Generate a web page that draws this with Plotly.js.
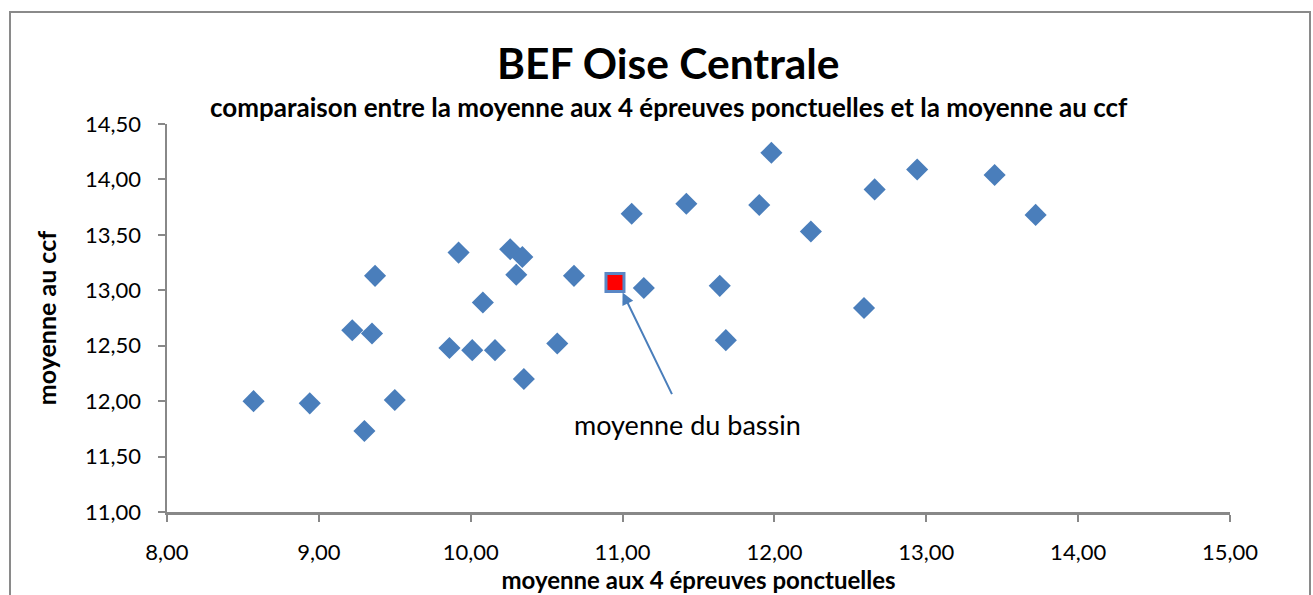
<!DOCTYPE html>
<html>
<head>
<meta charset="utf-8">
<script src="https://cdn.plot.ly/plotly-3.0.1.min.js"></script>
<style>
  html, body { margin: 0; padding: 0; background: #fff; }
  #chart { width: 1313px; height: 595px; }
</style>
</head>
<body>
<div id="chart"></div>
<script>
// Data
const etablissementsX = [8.57, 8.94, 9.30, 9.22, 9.35, 9.37, 9.50, 9.86, 9.92, 10.01, 10.08, 10.16, 10.26, 10.30, 10.34, 10.35, 10.57, 10.68, 11.14, 11.06, 11.42, 11.64, 11.68, 11.90, 11.98, 12.24, 12.59, 12.66, 12.94, 13.45, 13.72];
const etablissementsY = [12.00, 11.98, 11.73, 12.64, 12.61, 13.13, 12.01, 12.48, 13.34, 12.46, 12.89, 12.46, 13.37, 13.14, 13.30, 12.20, 12.52, 13.13, 13.02, 13.69, 13.78, 13.04, 12.55, 13.77, 14.24, 13.53, 12.84, 13.91, 14.09, 14.04, 13.68];
const bassinX = [10.95];
const bassinY = [13.07];
const annotationText = "moyenne du bassin";
const arrowHead = [11.00, 12.98];
const arrowTail = [11.33, 12.05];
const labelPos = [11.43, 11.79];
const xTicks = [8, 9, 10, 11, 12, 13, 14, 15];
const yTicks = [11, 11.5, 12, 12.5, 13, 13.5, 14, 14.5];
const titleText = "BEF Oise Centrale";
const subtitleText = "comparaison entre la moyenne aux 4 épreuves ponctuelles et la moyenne au ccf";
const xTitle = "moyenne aux 4 épreuves ponctuelles";
const yTitle = "moyenne au ccf";

const FONT = "Lato, 'Open Sans', sans-serif";
const BLUE = "#4a7ebb";

const traces = [
  {
    x: etablissementsX, y: etablissementsY, type: 'scatter', mode: 'markers',
    marker: { symbol: 'diamond', size: 17, color: BLUE, line: { width: 0 } },
    hoverinfo: 'x+y', showlegend: false
  },
  {
    x: bassinX, y: bassinY, type: 'scatter', mode: 'markers',
    marker: { symbol: 'square', size: 18, color: '#ff0000', line: { width: 3, color: '#5a87c5' } },
    hoverinfo: 'x+y', showlegend: false
  }
];

const layout = {
  width: 1313, height: 595,
  margin: { l: 167, r: 83, t: 124, b: 83 },
  paper_bgcolor: '#ffffff', plot_bgcolor: '#ffffff',
  separators: ', ',
  font: { family: FONT, color: '#000' },
  xaxis: {
    range: [8, 15], tickvals: xTicks, tickformat: '.2f',
    showgrid: false, zeroline: false,
    showline: true, linecolor: '#888888', linewidth: 2.5,
    ticks: 'outside', ticklen: 7, tickwidth: 2, tickcolor: '#888888',
    tickfont: { size: 22, family: FONT, color: '#000' },
    ticklabelstandoff: 12,
    title: { text: xTitle, font: { size: 24, family: FONT, weight: 'bold', color: '#000' }, standoff: 6 }
  },
  yaxis: {
    range: [11, 14.5], tickvals: yTicks, tickformat: '.2f',
    showgrid: false, zeroline: false,
    showline: true, linecolor: '#888888', linewidth: 2.5,
    ticks: 'outside', ticklen: 7, tickwidth: 2, tickcolor: '#888888',
    tickfont: { size: 22, family: FONT, color: '#000' },
    ticklabelstandoff: 12,
    title: { text: yTitle, font: { size: 25, family: FONT, weight: 'bold', color: '#000' }, standoff: 22 }
  },
  shapes: [
    { type: 'rect', xref: 'paper', yref: 'paper',
      x0: (10 - 167) / 1063, x1: (1310 - 167) / 1063,
      y0: -0.3, y1: (512 - 12) / 388,
      line: { color: '#8a8a8a', width: 2 }, fillcolor: 'rgba(0,0,0,0)', layer: 'below' }
  ],
  annotations: [
    { xref: 'paper', yref: 'paper', x: (668 - 167) / 1063, y: (512 - 63) / 388,
      text: '<b>' + titleText + '</b>', showarrow: false, xanchor: 'center', yanchor: 'middle',
      font: { size: 42.5, family: FONT, color: '#000' } },
    { xref: 'paper', yref: 'paper', x: (669 - 167) / 1063, y: (512 - 107) / 388,
      text: '<b>' + subtitleText + '</b>', showarrow: false, xanchor: 'center', yanchor: 'middle',
      font: { size: 26, family: FONT, color: '#000' } },
    { xref: 'x', yref: 'y', axref: 'x', ayref: 'y',
      x: arrowHead[0], y: arrowHead[1], ax: arrowTail[0], ay: arrowTail[1],
      text: '', showarrow: true, arrowhead: 2, arrowsize: 1.2, arrowwidth: 2, arrowcolor: BLUE },
    { xref: 'x', yref: 'y', x: labelPos[0], y: labelPos[1], text: annotationText,
      showarrow: false, xanchor: 'center', yanchor: 'middle',
      font: { size: 27, family: FONT, color: '#000' } }
  ]
};

Plotly.newPlot('chart', traces, layout, { displayModeBar: false, staticPlot: true });
</script>
</body>
</html>
